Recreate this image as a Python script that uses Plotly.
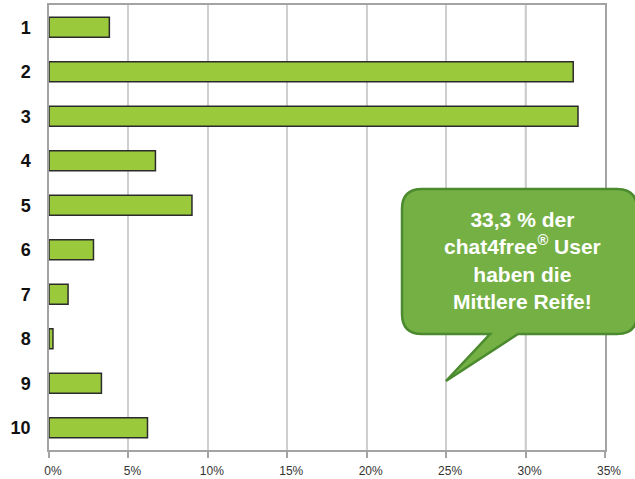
import plotly.graph_objects as go

categories = ["1", "2", "3", "4", "5", "6", "7", "8", "9", "10"]
values = [3.8, 33.0, 33.3, 6.7, 9.0, 2.8, 1.2, 0.25, 3.3, 6.2]
x_ticks = [0, 5, 10, 15, 20, 25, 30, 35]
x_labels = ["0%", "5%", "10%", "15%", "20%", "25%", "30%", "35%"]
bubble_text = "33,3 % der<br>chat4free<sup>®</sup> User<br>haben die<br>Mittlere Reife!"

W, H = 635, 479
L, R, T, B = 49, 30, 5, 29
pw, ph = W - L - R, H - T - B
FONT = "Liberation Sans, Arial"

def px(x):
    return (x - L) / pw

def py(y):
    return (H - B - y) / ph

fig = go.Figure(go.Bar(
    x=values, y=categories, orientation="h", width=0.45,
    marker=dict(color="#9aca3c", line=dict(color="#2b2b2b", width=1.5)),
))

# darker gridlines every 10 %
for v in [10, 20, 30]:
    fig.add_shape(type="line", x0=v, x1=v, y0=0, y1=1, xref="x", yref="paper",
                  line=dict(color="#a3a3a3", width=1.5), layer="below")

# speech bubble
left, top, right, bottom, r = 402, 189, 637, 334, 20
pts = [
    ("M", left + r, top), ("L", right - r, top), ("Q", right, top, right, top + r),
    ("L", right, bottom - r), ("Q", right, bottom, right - r, bottom),
    ("L", 518, bottom), ("L", 446, 381), ("L", 490, bottom),
    ("L", left + r, bottom), ("Q", left, bottom, left, bottom - r),
    ("L", left, top + r), ("Q", left, top, left + r, top),
]
path = ""
for p in pts:
    coords = p[1:]
    s = []
    for i in range(0, len(coords), 2):
        s.append(f"{px(coords[i]):.4f},{py(coords[i+1]):.4f}")
    path += p[0] + " " + " ".join(s) + " "
path += "Z"
fig.add_shape(type="path", path=path, xref="paper", yref="paper",
              fillcolor="#74b044", line=dict(color="#4b8a2e", width=2.5), layer="above")

fig.add_annotation(x=px(522), y=py(260), xref="paper", yref="paper", text=bubble_text,
                   xanchor="center", yanchor="middle", showarrow=False, align="center",
                   font=dict(family=FONT, size=21, color="white", weight="bold"))

fig.update_layout(
    width=W, height=H, margin=dict(l=L, r=R, t=T, b=B, autoexpand=False),
    plot_bgcolor="white", paper_bgcolor="white", showlegend=False,
    xaxis=dict(range=[0, 35], tickvals=x_ticks, ticktext=x_labels, automargin=False,
               showgrid=True, gridcolor="#cfcfcf", gridwidth=1.5,
               showline=True, linecolor="#a3a3a3", linewidth=2, mirror=True,
               zeroline=False, ticks="outside", ticklen=6, tickcolor="#a3a3a3", tickwidth=1.5,
               ticklabelstandoff=3, ticklabelshift=4,
               tickfont=dict(family=FONT, size=12, color="#333333")),
    yaxis=dict(categoryorder="array", categoryarray=categories, autorange="reversed",
               automargin=False, showgrid=False, showline=True, linecolor="#a3a3a3",
               linewidth=1.5, mirror=True, ticks="", ticklabelstandoff=13,
               tickfont=dict(family=FONT, size=18, color="#111111", weight="bold")),
)

fig.write_html("out.html", config={"displayModeBar": False},
               post_script="document.body.style.margin='0';")
